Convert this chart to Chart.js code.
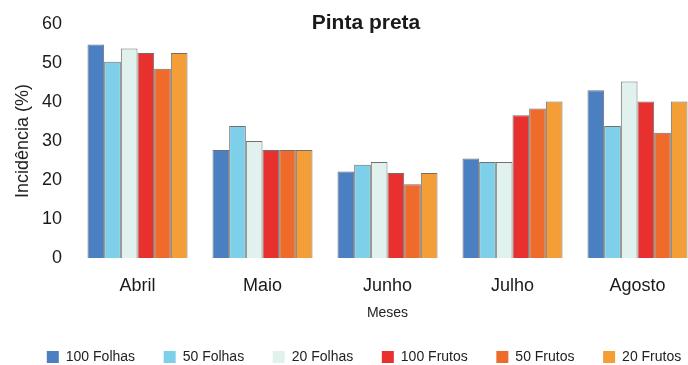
<!DOCTYPE html>
<html lang="pt">
<head>
  <meta charset="UTF-8">
  <title>Pinta preta</title>
  <script src="https://cdn.jsdelivr.net/npm/chart.js"></script>
  <style>
    html, body { margin: 0; padding: 0; background: #fff; overflow: hidden; }
    #wrap { width: 688px; height: 365px; overflow: hidden; }
    #box { width: 712px; height: 365px; }
  </style>
</head>
<body>
  <div id="wrap"><div id="box"><canvas id="chart"></canvas></div></div>

  <script>
    const months = ['Abril', 'Maio', 'Junho', 'Julho', 'Agosto'];
    const seriesNames = ['100 Folhas', '50 Folhas', '20 Folhas', '100 Frutos', '50 Frutos', '20 Frutos'];
    const folhas100 = [54.7, 27.7, 22.2, 25.5, 43.0];
    const folhas50 = [50.3, 33.8, 23.9, 24.6, 33.8];
    const folhas20 = [53.7, 30.0, 24.6, 24.6, 45.2];
    const frutos100 = [52.5, 27.7, 21.8, 36.6, 40.1];
    const frutos50 = [48.5, 27.7, 18.9, 38.3, 32.1];
    const frutos20 = [52.5, 27.7, 21.8, 40.1, 40.1];
    const yTicks = [0, 10, 20, 30, 40, 50, 60];

    const colors = ['#4a7fc2', '#7dcfea', '#e1f1ee', '#e8302f', '#ef6b2c', '#f39e36'];
    const values = [folhas100, folhas50, folhas20, frutos100, frutos50, frutos20];

    const font = "'Liberation Sans', Arial, sans-serif";

    // title drawn over the plot area, like the original
    const titlePlugin = {
      id: 'topTitle',
      afterDraw(chart) {
        const ctx = chart.ctx;
        ctx.save();
        ctx.font = 'bold 21px ' + font;
        ctx.fillStyle = '#1a1a1a';
        ctx.textAlign = 'center';
        ctx.textBaseline = 'middle';
        ctx.fillText('Pinta preta', 366, 23);
        ctx.restore();
      }
    };

    // one wide legend row, shorter box, started where the original starts
    const legendFit = {
      id: 'legendFit',
      beforeInit(chart) {
        const fit = chart.legend.fit;
        chart.legend.fit = function () {
          const mw = this.maxWidth;
          this.maxWidth = mw + 200;
          fit.call(this);
          this.maxWidth = mw;
          this.width = Math.min(this.width, mw);
          this.height = 43.5;
        };
      },
      afterLayout(chart) {
        chart.legend.right += 30;
        chart.legend.lineWidths = [665];
      }
    };

    new Chart(document.getElementById('chart'), {
      type: 'bar',
      data: {
        labels: months,
        datasets: seriesNames.map((name, i) => ({
          label: name,
          data: values[i],
          backgroundColor: colors[i],
          borderColor: '#707070',
          borderWidth: 1,
          categoryPercentage: 0.8,
          barPercentage: 1.0
        }))
      },
      options: {
        responsive: true,
        maintainAspectRatio: false,
        animation: false,
        layout: { padding: { top: 14, right: 12, bottom: 0 } },
        plugins: {
          title: { display: false },
          tooltip: { enabled: false },
          legend: {
            position: 'bottom',
            labels: {
              font: { family: font, size: 14 },
              color: '#222',
              boxWidth: 12,
              boxHeight: 12,
              padding: 28.6,
              generateLabels(chart) {
                return chart.data.datasets.map((ds, i) => ({
                  text: ds.label,
                  fillStyle: ds.backgroundColor,
                  strokeStyle: ds.backgroundColor,
                  lineWidth: 0,
                  datasetIndex: i,
                  fontColor: '#222'
                }));
              }
            }
          }
        },
        scales: {
          x: {
            grid: { display: false, drawTicks: false },
            border: { display: false },
            ticks: { font: { family: font, size: 18 }, color: '#1a1a1a', padding: 17 },
            title: { display: true, text: 'Meses', font: { family: font, size: 14 }, color: '#222', padding: { top: -9, bottom: 0 } }
          },
          y: {
            min: 0,
            max: 60,
            afterBuildTicks(axis) { axis.ticks = yTicks.map(v => ({ value: v })); },
            afterFit(axis) { axis.width = 75; },
            grid: { display: false, drawTicks: false },
            border: { display: false },
            ticks: { font: { family: font, size: 18 }, color: '#1a1a1a', padding: 13 },
            title: { display: true, text: 'Incidência (%)', font: { family: font, size: 18 }, color: '#222', padding: { top: 12, bottom: 0 } }
          }
        }
      },
      plugins: [titlePlugin, legendFit]
    });
  </script>
</body>
</html>
